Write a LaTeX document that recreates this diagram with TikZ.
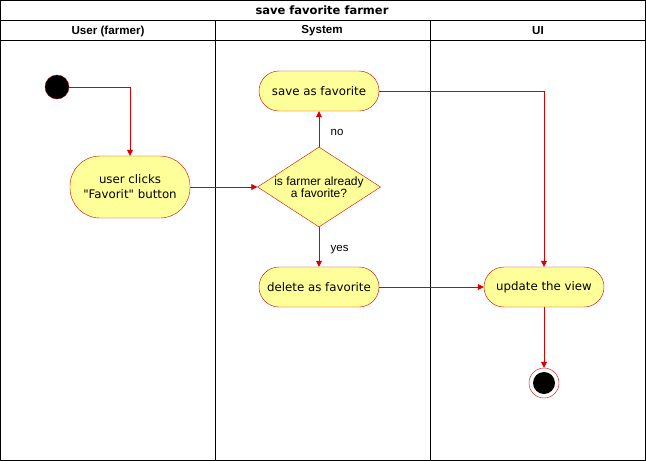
\documentclass[tikz,border=0pt]{standalone}
\usepackage{fontspec}
\setmainfont{Liberation Sans}
\newfontfamily\actfont{DejaVu Sans}
\usetikzlibrary{shapes.geometric, arrows.meta}
\definecolor{actfill}{HTML}{FFFF99}
\definecolor{actline}{HTML}{D80000}

\begin{document}
\begin{tikzpicture}[x=1pt, y=-1pt, a/.style={draw=actline, fill=actfill, minimum width=120pt, minimum height=40pt, rounded corners=20pt, inner sep=2pt, align=center, font=\actfont\fontsize{11.8}{15}\selectfont}, d/.style={diamond, aspect=1.525, draw=actline, fill=actfill, minimum width=123pt, minimum height=80pt, inner sep=0pt, align=center, font=\fontsize{12}{12}\selectfont}, e/.style={draw=actline, -{Triangle[length=6pt, width=6pt]}, line width=0.8pt}, h/.style={font=\bfseries\fontsize{11.6}{13}\selectfont}, l/.style={font=\fontsize{11.5}{13}\selectfont, yshift=-3pt}]
		      \useasboundingbox (0,0) rectangle (646,461);
		      % lanes
		      \draw (0.5,0.5) rectangle (645.5,460.5);
		      \draw (0.5,20.5) -- (645.5,20.5);
		      \draw (0.5,40.5) -- (645.5,40.5);
		      \draw (215.5,20.5) -- (215.5,460.5);
		      \draw (430.5,20.5) -- (430.5,460.5);
		      \node[font=\actfont\bfseries\fontsize{11.5}{13}\selectfont] (title) at (322,10.5) {save favorite farmer};
		      \node[h] (lane1) at (108,31) {User (farmer)};
		      \node[h] (lane2) at (322,31) {System};
		      \node[h] (lane3) at (538,31) {UI};
		      % activities
		      \node[circle, fill=black, draw=actline!70!black, minimum size=24pt, inner sep=0pt] (start) at (57,87) {};
		      \node[a, minimum height=62pt, rounded corners=30pt] (clicks) at (130,187) {user clicks\\"Favorit" button};
		      \node[d] (dec) at (319,187) {is farmer already\\a favorite?};
		      \node[a] (save) at (319,91) {save as favorite};
		      \node[a] (del) at (319,287) {delete as favorite};
		      \node[a] (upd) at (544,287) {update the view};
		      \node[circle, draw=actline, fill=white, minimum size=30pt, inner sep=0pt] (stop) at (544,383) {};
		      \node[circle, fill=black, minimum size=22pt, inner sep=0pt] (stopin) at (stop) {};
		      % flow
		      \draw[e] (start) -| (clicks);
		      \draw[e] (clicks) -- (dec);
		      \draw[e] (dec) -- node[l, right=8pt] (no) {no} (save);
		      \draw[e] (dec) -- node[l, right=8pt] (yes) {yes} (del);
		      \draw[e] (save) -| (upd);
		      \draw[e] (del) -- (upd);
		      \draw[e] (upd) -- (stop);
		    \end{tikzpicture}
\end{document}
